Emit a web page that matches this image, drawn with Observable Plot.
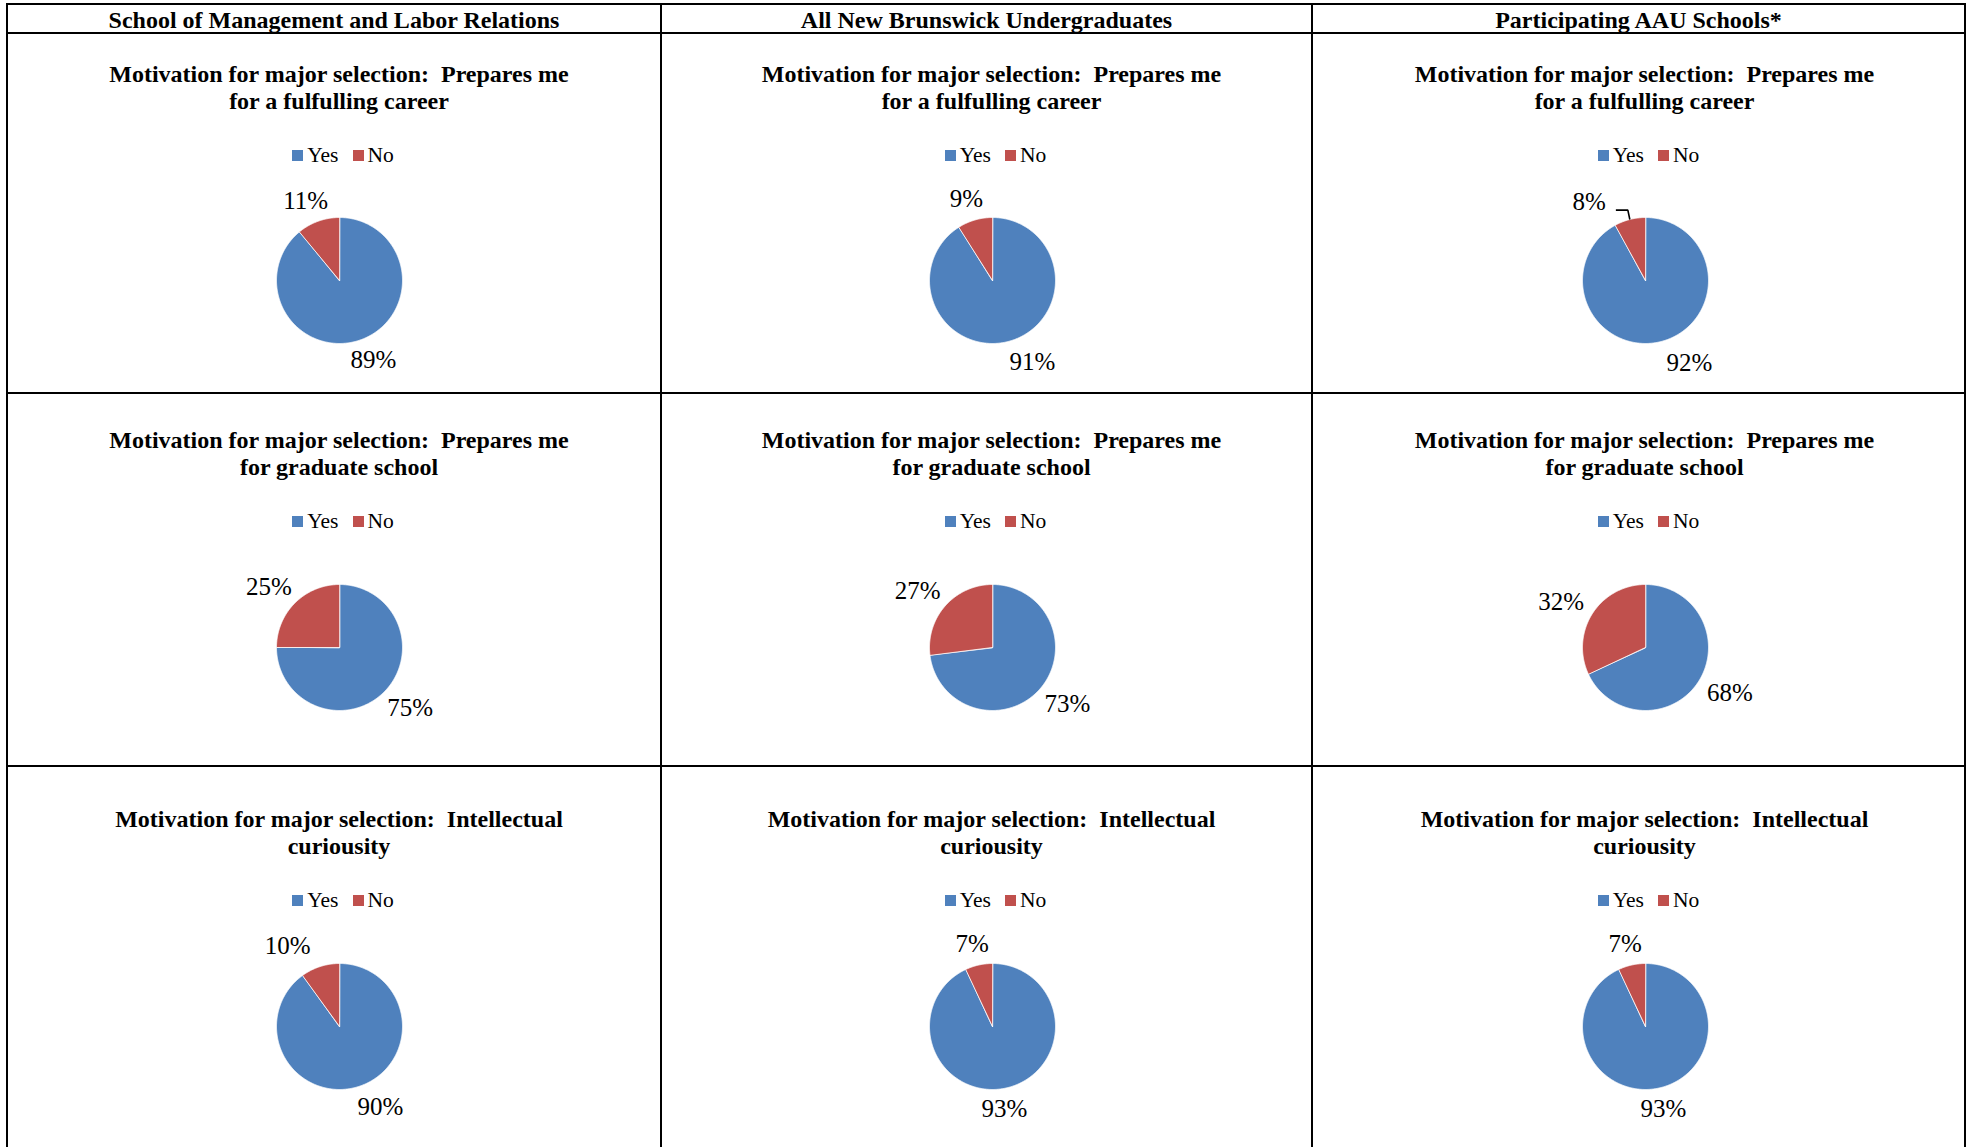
<!DOCTYPE html>
<html><head><meta charset="utf-8">
<script src="https://cdn.jsdelivr.net/npm/d3@7"></script>
<script src="https://cdn.jsdelivr.net/npm/@observablehq/plot@0.6"></script>
<style>
html,body{margin:0;padding:0;background:#fff;}
body{width:1973px;height:1147px;overflow:hidden;position:relative;font-family:"Liberation Serif","Times New Roman",serif;color:#000;}
.hl{position:absolute;height:2px;background:#000;}
.vl{position:absolute;width:2px;background:#000;}
.hdr,.ttl{position:absolute;text-align:center;font-weight:bold;font-size:24px;line-height:27px;white-space:pre;}
.legwrap{position:absolute;height:24px;display:flex;justify-content:center;align-items:center;}
.legwrap > div{font-family:"Liberation Serif","Times New Roman",serif !important;font-size:21.5px !important;margin:0 !important;min-height:0 !important;display:flex !important;align-items:center;justify-content:center;color:#000;}
.legwrap > div > span{display:inline-flex;align-items:center;margin-right:14px !important;}
.legwrap > div > span:last-child{margin-right:0 !important;}
.legwrap > div > span > svg{margin-right:4px !important;}
.pie{position:absolute;}
</style></head><body>
<script>
// ---- data ----
const columns = ["School of Management and Labor Relations", "All New Brunswick Undergraduates", "Participating AAU Schools*"];
const questions = [
  "Motivation for major selection:  Prepares me\nfor a fulfulling career",
  "Motivation for major selection:  Prepares me\nfor graduate school",
  "Motivation for major selection:  Intellectual\ncuriousity"
];
const categories = ["Yes", "No"];
const yesPct = [[89, 91, 92], [75, 73, 68], [90, 93, 93]];
const noPct  = [[11, 9, 8], [25, 27, 32], [10, 7, 7]];
const colors = ["#4F81BD", "#C0504D"];

// ---- layout ----
const vLineX = [7, 661, 1312, 1965];
const hLineY = [4, 33, 393, 765.7];
const chartCX = [339, 991.5, 1644.5];
const rowLayout = [
  {titleTop: 61.4, legendY: 155.5, pieY: 280},
  {titleTop: 426.7, legendY: 521, pieY: 647},
  {titleTop: 806, legendY: 900, pieY: 1026}
];
// label placement tweaks (pixels) mimicking the spreadsheet's best-fit placement, keyed "row,col,category"
const labelNudge = {
  "0,1,Yes": [12, 0], "0,2,Yes": [19, 0], "0,2,No": [-33, 4],
  "2,0,No": [-21, 0], "2,0,Yes": [10, 0], "2,1,Yes": [-10, 0], "2,2,Yes": [-4, 0]
};
const leaderFor = {"0,2": "No"};
const R = 63, W = 320, H = 250, gap = 14, labelSize = 25;

const body = document.body;
function div(cls, style, text) {
  const d = document.createElement("div");
  d.className = cls;
  Object.assign(d.style, style);
  if (text != null) d.textContent = text;
  body.appendChild(d);
  return d;
}

// table lines
for (const x of vLineX) div("vl", {left: (x - 1) + "px", top: (hLineY[0] - 1) + "px", height: "1200px"});
for (const y of hLineY) div("hl", {left: (vLineX[0] - 1) + "px", top: (y - 1) + "px", width: (vLineX[3] - vLineX[0] + 2) + "px"});

// headers
columns.forEach((c, j) => {
  div("hdr", {left: vLineX[j] + "px", width: (vLineX[j + 1] - vLineX[j]) + "px", top: "6.7px"}, c);
});

function pieChart(i, j) {
  const slices = [{key: categories[0], value: yesPct[i][j]}, {key: categories[1], value: noPct[i][j]}];
  const arcs = d3.pie().sort(null).value(d => d.value)(slices);
  const pts = [];
  for (const a of arcs) {
    pts.push({key: a.data.key, x: 0, y: 0});
    const n = Math.max(2, Math.ceil((a.endAngle - a.startAngle) / (Math.PI / 360)));
    for (let k = 0; k <= n; k++) {
      const t = a.startAngle + (a.endAngle - a.startAngle) * k / n;
      pts.push({key: a.data.key, x: Math.sin(t), y: Math.cos(t)});
    }
  }
  const leaders = [];
  const labels = arcs.map(a => {
    const m = (a.startAngle + a.endAngle) / 2;
    const ux = Math.sin(m), uy = Math.cos(m);
    const w = (String(a.data.value).length * 0.5 + 0.833) * labelSize;
    const h = 16;
    const [ndx, ndy] = labelNudge[`${i},${j},${a.data.key}`] || [0, 0];
    const lx = (R + gap) * ux + ux * w / 2 + ndx;
    const ly = (R + gap) * uy + uy * h / 2 - ndy;
    if (leaderFor[`${i},${j}`] === a.data.key) {
      // edge of slice -> elbow -> toward label
      const ex = R * ux, ey = R * uy;
      const yy = ly - h / 2;
      leaders.push({x: ex / R, y: ey / R}, {x: (ex - 2) / R, y: yy / R}, {x: (lx + w / 2 + 10) / R, y: yy / R});
    }
    return {x: lx / R, y: ly / R, text: a.data.value + "%"};
  });
  return Plot.plot({
    width: W, height: H, margin: 0,
    style: {background: "transparent", overflow: "visible"},
    x: {domain: [-W / 2 / R, W / 2 / R], axis: null},
    y: {domain: [-H / 2 / R, H / 2 / R], axis: null},
    color: {domain: categories, range: colors},
    marks: [
      Plot.line(pts, {x: "x", y: "y", z: "key", fill: "key", stroke: "white", strokeWidth: 0.8, curve: "linear-closed"}),
      Plot.line(leaders, {x: "x", y: "y", stroke: "black", strokeWidth: 1.6, strokeLinecap: "butt", strokeLinejoin: "miter"}),
      Plot.text(labels, {x: "x", y: "y", text: "text", fontSize: labelSize, fontFamily: "Liberation Serif, Times New Roman, serif", fill: "black"})
    ]
  });
}

rowLayout.forEach((row, i) => {
  chartCX.forEach((cx, j) => {
    div("ttl", {left: (cx - 330) + "px", width: "660px", top: row.titleTop + "px"}, questions[i]);
    const lw = div("legwrap", {left: (cx + 4 - 150) + "px", width: "300px", top: (row.legendY - 12) + "px"});
    lw.appendChild(Plot.legend({color: {domain: categories, range: colors}, swatchSize: 11}));
    const p = div("pie", {left: (cx - W / 2) + "px", top: (row.pieY - H / 2) + "px"});
    p.appendChild(pieChart(i, j));
  });
});
</script>
</body></html>
